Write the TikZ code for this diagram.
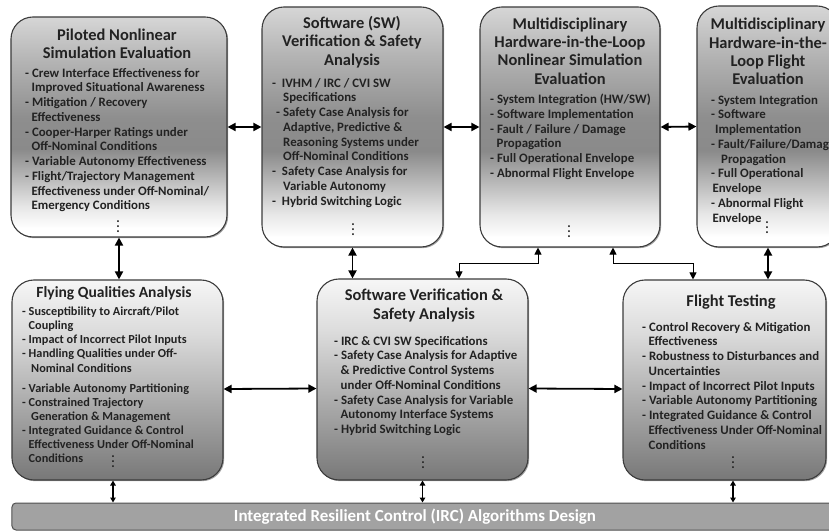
\documentclass[tikz,border=0pt]{standalone}
\usepackage{fontspec}
\setmainfont{Carlito}
\usetikzlibrary{arrows.meta,shadows}

\definecolor{ink}{HTML}{222222}
\definecolor{rim}{HTML}{3C3C3C}
\definecolor{tA}{HTML}{D6D6D6}
\definecolor{tB}{HTML}{B4B4B4}
\definecolor{tC}{HTML}{8E8E8E}
\definecolor{tD}{HTML}{8A8A8A}
\definecolor{tE}{HTML}{E6E6E6}
\definecolor{bA}{HTML}{F6F6F6}
\definecolor{bB}{HTML}{DCDCDC}
\definecolor{bC}{HTML}{ADADAD}
\definecolor{bD}{HTML}{787878}
\definecolor{strip}{HTML}{A2A2A2}
\definecolor{striprim}{HTML}{505050}

% upper panels: light top, dark zone below the middle, white bottom
\pgfdeclareverticalshading{uppershade}{100bp}{color(0bp)=(white); color(27bp)=(white); color(32bp)=(tE); color(45bp)=(tD); color(52bp)=(tC); color(65bp)=(tB); color(75bp)=(tA); color(100bp)=(tA)}
% lower panels: white top fading to dark grey at the bottom
\pgfdeclareverticalshading{lowershade}{100bp}{color(0bp)=(bD); color(25bp)=(bD); color(45bp)=(bC); color(62bp)=(bB); color(75bp)=(bA); color(100bp)=(bA)}

\newcommand\cont{\hspace*{6.5bp}}
\newcommand\moredots{\vbox{\baselineskip5bp\lineskiplimit0pt\hbox{.}\hbox{.}\hbox{.}}}

\tikzset{
  panel/.style={draw=rim, line width=1.1bp, rounded corners=22bp, inner sep=0pt,
    drop shadow={shadow xshift=1.2bp, shadow yshift=-1.2bp, opacity=0.35, fill=black}},
  upperpanel/.style={panel, shading=uppershade},
  lowerpanel/.style={panel, shading=lowershade},
  ttl/.style={font=\fontsize{16.5}{18.5}\selectfont\bfseries, text=ink, align=center, inner sep=0pt},
  body/.style={font=\fontsize{12.9}{14.8}\selectfont\bfseries, text=ink, align=left, inner sep=0pt, anchor=north west},
  more/.style={font=\fontsize{13}{13}\selectfont\bfseries, text=ink, inner sep=0pt},
  link/.style={draw=black, line width=1.8bp, {Triangle[length=8bp,width=8bp]}-{Triangle[length=8bp,width=8bp]}},
  elbow/.style={draw=black, line width=1bp, {Triangle[length=7bp,width=7bp]}-{Triangle[length=7bp,width=7bp]}},
  stub/.style={draw=black, line width=1.4bp, {Triangle[length=5bp,width=5.5bp]}-{Triangle[length=5bp,width=5.5bp]}},
}

\begin{document}
\begin{tikzpicture}[x=1bp, y=-1bp]
\useasboundingbox (0,0) rectangle (829,531);
\clip (0,0) rectangle (829,531);

% ---- panels ----
\node[upperpanel, minimum width=216bp, minimum height=220bp] (pilot) at (119,127) {};
\node[upperpanel, minimum width=181bp, minimum height=240bp] (swtop) at (352.5,127) {};
\node[upperpanel, minimum width=180bp, minimum height=240bp] (hilsim) at (570,127) {};
\node[upperpanel, minimum width=142bp, minimum height=241bp] (hilflt) at (768,126.5) {};
\node[lowerpanel, minimum width=211bp, minimum height=200bp] (fq) at (117.5,380) {};
\node[lowerpanel, minimum width=211bp, minimum height=201bp] (swbot) at (422.5,379.5) {};
\node[lowerpanel, minimum width=203bp, minimum height=200bp] (ft) at (724.5,380) {};
\node[draw=striprim, fill=strip, line width=1bp, rounded corners=4bp, inner sep=0pt,
      minimum width=840bp, minimum height=27bp] (irc) at (432,516.5) {};
\node[font=\fontsize{17}{17}\selectfont\bfseries, text=white, inner sep=0pt] (irclabel) at (415,517)
  {Integrated Resilient Control (IRC) Algorithms Design};

% ---- titles ----
\node[ttl] (pilotT) at (117,44) {Piloted Nonlinear\\Simulation Evaluation};
\node[ttl] (swtopT) at (352,42) {Software (SW)\\Verification \& Safety\\Analysis};
\node[ttl] (hilsimT) at (570,51) {Multidisciplinary\\Hardware-in-the-Loop\\Nonlinear Simulation\\Evaluation};
\node[ttl] (hilfltT) at (768,51.5) {Multidisciplinary\\Hardware-in-the-\\Loop Flight\\Evaluation};
\node[ttl, font=\fontsize{15.6}{18}\selectfont\bfseries] (fqT) at (114,293) {Flying Qualities Analysis};
\node[ttl] (swbotT) at (424,305.5) {Software Verification \&\\Safety Analysis};
\node[ttl] (ftT) at (731,302) {Flight Testing};

% ---- item lists ----
\node[body] (pilotB) at (25,68) {- Crew Interface Effectiveness for\\
\cont Improved Situational Awareness\\
- Mitigation / Recovery\\
\cont Effectiveness\\
- Cooper-Harper Ratings under\\
\cont Off-Nominal Conditions\\
- Variable Autonomy Effectiveness\\
- Flight/Trajectory Management\\
\cont Effectiveness under Off-Nominal/\\
\cont Emergency Conditions};

\node[body] (swtopB) at (272,78) {-\ \ IVHM / IRC / CVI SW\\
\hspace*{11bp}Specifications\\
\hspace*{4bp}- Safety Case Analysis for\\
\hspace*{11bp}Adaptive, Predictive \&\\
\hspace*{11bp}Reasoning Systems under\\
\hspace*{11bp}Off-Nominal Conditions\\
-\ \ Safety Case Analysis for\\
\hspace*{11bp}Variable Autonomy\\
-\ \ Hybrid Switching Logic};

\node[body] (hilsimB) at (490,94) {- System Integration (HW/SW)\\
- Software Implementation\\
- Fault / Failure / Damage\\
\cont Propagation\\
- Full Operational Envelope\\
- Abnormal Flight Envelope};

\node[body] (hilfltB) at (711,95) {- System Integration\\
- Software\\
\hspace*{4bp}Implementation\\
- Fault/Failure/Damage\\
\hspace*{10bp}Propagation\\
- Full Operational\\
\hspace*{1.5bp}Envelope\\
- Abnormal Flight\\
\hspace*{1.5bp}Envelope};

\node[body, font=\fontsize{12.3}{14.1}\selectfont\bfseries] (fqB) at (22,307) {- Susceptibility to Aircraft/Pilot\\
\cont Coupling\\
- Impact of Incorrect Pilot Inputs\\
- Handling Qualities under Off-\\
\hspace*{9bp}Nominal Conditions\\[6bp]
- Variable Autonomy Partitioning\\
- Constrained Trajectory\\
\hspace*{9bp}Generation \& Management\\
- Integrated Guidance \& Control\\
\cont Effectiveness Under Off-Nominal\\
\cont Conditions};

\node[body] (swbotB) at (334,336) {- IRC \& CVI SW Specifications\\
- Safety Case Analysis for Adaptive\\
\cont \& Predictive Control Systems\\
\cont under Off-Nominal Conditions\\
- Safety Case Analysis for Variable\\
\cont Autonomy Interface Systems\\
- Hybrid Switching Logic};

\node[body] (ftB) at (642,322) {- Control Recovery \& Mitigation\\
\cont Effectiveness\\
- Robustness to Disturbances and\\
\cont Uncertainties\\
- Impact of Incorrect Pilot Inputs\\
- Variable Autonomy Partitioning\\
- Integrated Guidance \& Control\\
\cont Effectiveness Under Off-Nominal\\
\cont Conditions};

% ---- continuation dots ----
\node[more] (pilotD) at (118,227) {\moredots};
\node[more] (swtopD) at (353,230) {\moredots};
\node[more] (hilsimD) at (569,232) {\moredots};
\node[more] (hilfltD) at (767,228) {\moredots};
\node[more] (fqD) at (113,462) {\moredots};
\node[more] (swbotD) at (423,463) {\moredots};
\node[more] (ftD) at (733,463) {\moredots};

% ---- connectors ----
\draw[link] (pilot.east) -- (swtop.west);
\draw[link] (swtop.east) -- (hilsim.west);
\draw[link] (hilsim.east) -- (hilflt.west);
\draw[link] (pilot.south) -- (pilot.south |- fq.north);
\draw[link] (swtop.south) -- (swtop.south |- swbot.north);
\draw[link] (hilflt.south) -- (hilflt.south |- ft.north);
\draw[link] ([yshift=-9bp]fq.east) -- ([yshift=-9bp]swbot.west);
\draw[link] ([yshift=-9bp]swbot.east) -- ([yshift=-9bp]ft.west);
\draw[elbow] ([xshift=-32bp]hilsim.south) -- ++(0,16) -| ([xshift=36.5bp]swbot.north);
\draw[elbow] ([xshift=43bp]hilsim.south) -- ++(0,16) -| ([xshift=-31.5bp]ft.north);
\draw[stub] ([xshift=-4.5bp]fq.south) -- ([xshift=-4.5bp]fq.south |- irc.north);
\draw[stub] (swbot.south) -- (swbot.south |- irc.north);
\draw[stub] ([xshift=8.5bp]ft.south) -- ([xshift=8.5bp]ft.south |- irc.north);
\end{tikzpicture}
\end{document}
